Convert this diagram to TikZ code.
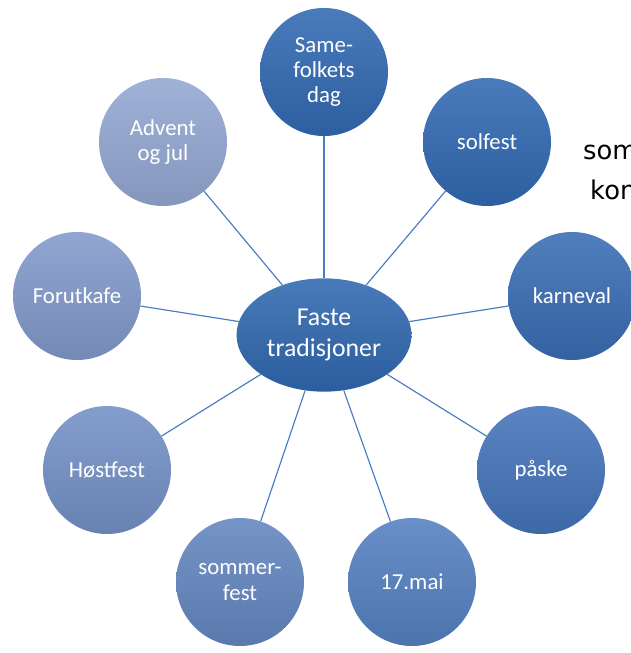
\documentclass[tikz,border=0pt]{standalone}
\usepackage{fontspec}
\setmainfont{Carlito}
\newfontfamily\handfont{DejaVu Sans}
\usetikzlibrary{shapes.geometric}
\definecolor{hubblue}{HTML}{3068B0}
\definecolor{spokeblue}{HTML}{4A7CC0}
\definecolor{sameblue}{HTML}{3169B2}
\definecolor{solblue}{HTML}{3169B2}
\definecolor{karnblue}{HTML}{396CB3}
\definecolor{paskeblue}{HTML}{4474B9}
\definecolor{maiblue}{HTML}{5480C0}
\definecolor{sommerblue}{HTML}{6386BF}
\definecolor{hostblue}{HTML}{7390C6}
\definecolor{forutblue}{HTML}{8199CA}
\definecolor{adventblue}{HTML}{93A7D1}
\tikzset{bubble/.style={circle,minimum size=3.84cm,inner sep=0,align=center,text=white,
        font=\fontsize{19.5}{21.5}\selectfont,top color=#1!88!white,bottom color=#1!90!black},
    hubnode/.style={ellipse,minimum width=5.25cm,minimum height=3.4cm,inner sep=0,align=center,
        text=white,font=\fontsize{22}{26}\selectfont,top color=hubblue!88!white,bottom color=hubblue!90!black},
    spoke/.style={draw=spokeblue,line width=1pt},
    sidetext/.style={anchor=west,inner sep=0,font=\handfont\fontsize{22}{26}\selectfont}
}

\begin{document}
\begin{tikzpicture}[x=0.03cm,y=-0.03cm]
\useasboundingbox (0,0) rectangle (630,653);

% hub
\node (hub) at (324,335) [hubnode] {Faste\\tradisjoner};

% ring of events
\node (same) at (324,72) [bubble=sameblue] {Same-\\folkets\\dag};
\node (sol) at (487,142) [bubble=solblue] {solfest};
\node (karn) at (572,296) [bubble=karnblue] {karneval};
\node (paske) at (541,470) [bubble=paskeblue] {påske};
\node (mai) at (412,582) [bubble=maiblue] {17.mai};
\node (sommer) at (240,582) [bubble=sommerblue] {sommer-\\fest};
\node (host) at (107,470) [bubble=hostblue] {Høstfest};
\node (forut) at (77,296) [bubble=forutblue] {Forutkafe};
\node (advent) at (163,142) [bubble=adventblue] {Advent\\og jul};

\foreach \n in {same,sol,karn,paske,mai,sommer,host,forut,advent}
    \draw [spoke] (hub) -- (\n);

% cut-off text at the right
\node (som) at (583,152) [sidetext] {som};
\node (kon) at (590,190) [sidetext] {kon};

\end{tikzpicture}
\end{document}
